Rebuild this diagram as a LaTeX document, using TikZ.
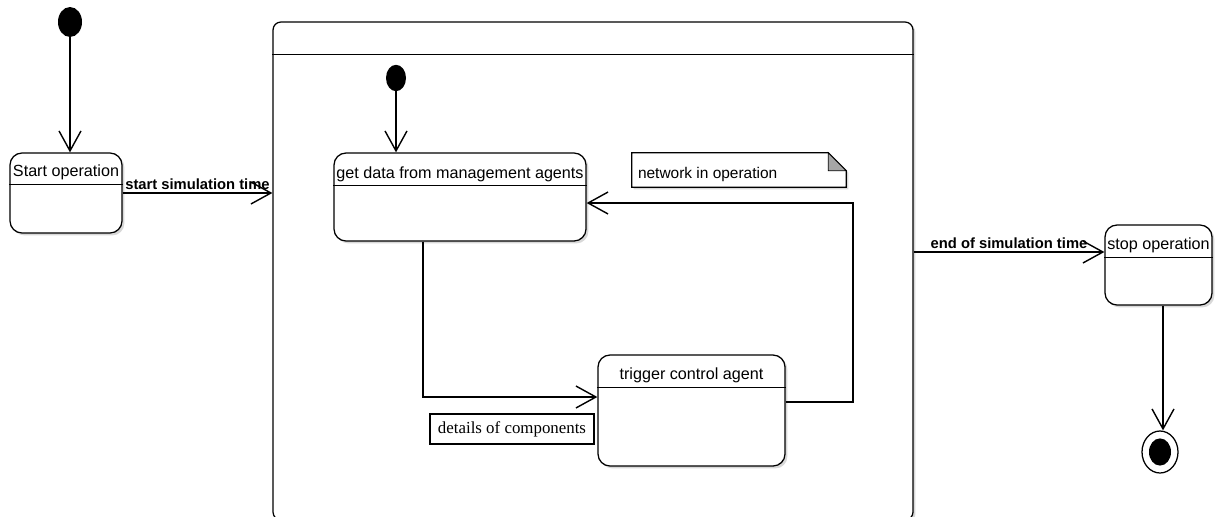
\documentclass[tikz,border=0pt]{standalone}
\usepackage{fontspec}
\setmainfont{Liberation Sans}
\newfontfamily\notefont{Liberation Serif}
\usetikzlibrary{shapes.geometric, arrows.meta, positioning, calc, shadows}

\begin{document}
\begin{tikzpicture}[>={Straight Barb[length=0.5cm, width=0.55cm]}]
\tikzstyle{state} = [rectangle, rounded corners=0.3cm, draw, line width=0.9pt, fill=white, drop shadow={shadow xshift=0.06cm, shadow yshift=-0.06cm, fill=black!30}]
\tikzstyle{statetitle} = [inner sep=1pt, font=\fontsize{11.5}{13}\selectfont]
\tikzstyle{divider} = [line width=0.9pt]
\tikzstyle{initial} = [ellipse, fill=black, minimum width=0.6cm, minimum height=0.75cm, inner sep=0pt]
\tikzstyle{trans} = [->, line width=1pt]
\tikzstyle{guard} = [font=\bfseries\fontsize{10.5}{12}\selectfont, inner sep=2pt]

\useasboundingbox (0,0) rectangle (30.425,-12.9);

% outer states
\node (init) [initial] at (1.75,-0.55) {};
\node (start) [state, minimum width=2.8cm, minimum height=2cm] at (1.65,-4.825) {};
\node (starttitle) [statetitle] at ($(start.north)+(0,-0.5)$) {Start operation};
\draw[divider] ($(start.north west)+(0,-0.8)$) -- ($(start.north east)+(0,-0.8)$);

\node (sim) [state, rounded corners=0.2cm, minimum width=16cm, minimum height=12.45cm] at (14.825,-6.775) {};
\draw[divider] ($(sim.north west)+(0,-0.825)$) -- ($(sim.north east)+(0,-0.825)$);

\node (stop) [state, minimum width=2.675cm, minimum height=2cm] at (28.9625,-6.625) {};
\node (stoptitle) [statetitle] at ($(stop.north)+(0,-0.52)$) {stop operation};
\draw[divider] ($(stop.north west)+(0,-0.82)$) -- ($(stop.north east)+(0,-0.82)$);

\node (final) [draw, ellipse, line width=0.9pt, minimum width=0.9cm, minimum height=1.05cm] at (29.0,-11.3) {};
\node (finaldot) [initial, minimum width=0.55cm, minimum height=0.68cm] at (final) {};

% inner states
\node (init2) [initial, minimum width=0.5cm, minimum height=0.66cm] at (9.9,-1.95) {};
\node (getdata) [state, minimum width=6.3cm, minimum height=2.2cm] at (11.5,-4.925) {};
\node (getdatatitle) [statetitle] at ($(getdata.north)+(0,-0.54)$) {get data from management agents};
\draw[divider] ($(getdata.north west)+(0,-0.83)$) -- ($(getdata.north east)+(0,-0.83)$);

\node (trigger) [state, minimum width=4.675cm, minimum height=2.775cm] at (17.2875,-10.2625) {};
\node (triggertitle) [statetitle] at ($(trigger.north)+(0,-0.53)$) {trigger control agent};
\draw[divider] ($(trigger.north west)+(0,-0.83)$) -- ($(trigger.north east)+(0,-0.83)$);

% notes
\node (note) [minimum width=5.35cm, minimum height=0.85cm, inner sep=0pt] at (18.475,-4.25) {};
\draw[line width=0.9pt, fill=white, drop shadow={shadow xshift=0.05cm, shadow yshift=-0.05cm, fill=black!30}] (note.south west) -- (note.north west) -- ($(note.north east)+(-0.45,0)$) -- ($(note.north east)+(0,-0.45)$) -- (note.south east) -- cycle;
\filldraw[fill=black!35, line width=0.6pt] ($(note.north east)+(-0.45,0)$) -- ($(note.north east)+(0,-0.45)$) -- ($(note.north east)+(-0.45,-0.45)$) -- cycle;
\node (notetext) [anchor=west, font=\fontsize{11}{12}\selectfont, inner sep=0pt] at ($(note.west)+(0.15,-0.1)$) {network in operation};

\node (details) [draw, line width=0.9pt, minimum width=4.1cm, minimum height=0.75cm, inner sep=1pt, font=\notefont\fontsize{12}{13}\selectfont] at (12.8,-10.725) {details of components};

% transitions
\draw[trans] (init) -- (init |- start.north);
\draw[trans] (start.east) -- (start.east -| sim.west) node[guard, above, midway] {start simulation time};
\draw[trans] (sim.east |- 0,-6.3) -- (stop.west |- 0,-6.3) node[guard, above, midway] {end of simulation time};
\draw[trans] (stop.south -| 29.075,0) -- (final.north -| 29.075,0);

\draw[trans] (init2) -- (init2 |- getdata.north);
\draw[trans] (getdata.south -| 10.575,0) |- (trigger.west |- 0,-9.925);
\draw[trans] (trigger.east |- 0,-10.05) -| (21.325,-5.075) -- (getdata.east |- 0,-5.075);

\end{tikzpicture}
\end{document}
